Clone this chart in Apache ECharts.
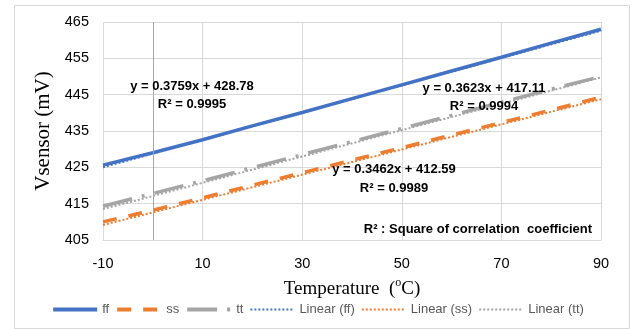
<!DOCTYPE html>
<html>
<head>
<meta charset="utf-8">
<script src="https://cdn.jsdelivr.net/npm/echarts@6/dist/echarts.min.js"></script>
<style>
  html, body { margin: 0; padding: 0; background: #fff; }
  #chart { width: 635px; height: 329px; }
</style>
</head>
<body>
<div id="chart"></div>
<script>
// measured data, temperature (C) vs sensor voltage (mV)
var temps = [-10, 0, 10, 20, 30, 40, 50, 60, 70, 80, 90]
var ffData = [425.6, 429.0, 432.6, 436.4, 440.1, 443.9, 447.7, 451.5, 455.3, 459.2, 463.0]
var ssData = [410.0, 413.2, 416.6, 420.1, 423.5, 427.0, 430.4, 433.9, 437.3, 440.8, 444.3]
var ttData = [414.3, 417.8, 421.3, 424.9, 428.5, 432.1, 435.7, 439.3, 442.9, 446.5, 450.0]

// trendline end points (from the fitted equations at x = -10 and x = 90)
var trendX = [-10, 90]
var ffTrend = [425.02, 462.61]
var ssTrend = [409.13, 443.75]
var ttTrend = [413.49, 449.72]

var xTicks = [-10, 10, 30, 50, 70, 90]
var yTicks = [405, 415, 425, 435, 445, 455, 465]

var blue = '#4472C4'
var orange = '#ED7D31'
var gray = '#A5A5A5'

function pairs(xs, ys) {
  var out = []
  xs.forEach(function (x, i) { out.push([x, ys[i]]) })
  return out
}

var chart = echarts.init(document.getElementById('chart'))

var sans = '"Liberation Sans", Arial, sans-serif'
var serif = '"Liberation Serif", "Times New Roman", serif'
var eqFont = 'bold 13px ' + sans

function eqText(x, y, txt, align) {
  return {
    type: 'text', x: x, y: y, z: 10,
    style: { text: txt, font: eqFont, fill: '#000', align: align || 'center', verticalAlign: 'middle' }
  }
}

var option = {
  animation: false,
  backgroundColor: '#fff',
  grid: { left: 103, right: 34, top: 22, bottom: 89 },
  xAxis: {
    type: 'value',
    min: xTicks[0],
    max: xTicks[xTicks.length - 1],
    interval: 20,
    name: '{a|Temperature  (}{s|o}{a|C)}',
    nameLocation: 'middle',
    nameGap: 37,
    nameTextStyle: {
      rich: {
        a: { fontFamily: serif, fontSize: 19, color: '#000', lineHeight: 22, verticalAlign: 'bottom' },
        s: { fontFamily: serif, fontSize: 12, color: '#000', lineHeight: 22, verticalAlign: 'top', padding: [0, 0, 8, 0] }
      }
    },
    axisLine: { show: true, lineStyle: { color: '#d9d9d9' } },
    axisTick: { show: false },
    axisLabel: { color: '#000', fontSize: 14.5, margin: 16, fontFamily: sans },
    splitLine: { show: true, lineStyle: { color: '#d9d9d9' } }
  },
  yAxis: {
    type: 'value',
    min: yTicks[0],
    max: yTicks[yTicks.length - 1],
    interval: 10,
    name: 'Vsensor (mV)',
    nameLocation: 'middle',
    nameGap: 34,
    nameTextStyle: { fontFamily: serif, fontSize: 21, color: '#000' },
    axisLine: { show: false },
    axisTick: { show: false },
    axisLabel: { color: '#000', fontSize: 14.5, margin: 14, fontFamily: sans },
    splitLine: { show: true, lineStyle: { color: '#d9d9d9' } }
  },
  legend: {
    bottom: 8,
    left: 'center',
    itemWidth: 44,
    itemHeight: 10,
    itemGap: 6,
    itemStyle: { opacity: 0 },
    textStyle: { color: '#595959', fontSize: 13, fontFamily: sans },
    data: [
      { name: 'ff', lineStyle: { width: 4 } },
      { name: 'ss', lineStyle: { width: 4 } },
      { name: 'tt', lineStyle: { width: 4 } },
      'Linear (ff)', 'Linear (ss)', 'Linear (tt)'
    ]
  },
  series: [
    {
      name: 'ff', type: 'line', symbol: 'none', z: 2,
      data: pairs(temps, ffData),
      lineStyle: { color: blue, width: 3.5 },
      itemStyle: { color: blue },
      markLine: {
        silent: true, symbol: 'none', label: { show: false },
        lineStyle: { color: '#a6a6a6', type: 'solid', width: 1 },
        data: [{ xAxis: 0 }]
      }
    },
    {
      name: 'ss', type: 'line', symbol: 'none', z: 2,
      data: pairs(temps, ssData),
      lineStyle: { color: orange, width: 3.5, type: [14, 12] },
      itemStyle: { color: orange }
    },
    {
      name: 'tt', type: 'line', symbol: 'none', z: 2,
      data: pairs(temps, ttData),
      lineStyle: { color: gray, width: 3.5, type: [30, 10, 3, 10] },
      itemStyle: { color: gray }
    },
    {
      name: 'Linear (ff)', type: 'line', symbol: 'none', z: 3,
      data: pairs(trendX, ffTrend),
      lineStyle: { color: blue, width: 2, type: [2, 2] },
      itemStyle: { color: blue }
    },
    {
      name: 'Linear (ss)', type: 'line', symbol: 'none', z: 3,
      data: pairs(trendX, ssTrend),
      lineStyle: { color: orange, width: 2, type: [2, 2] },
      itemStyle: { color: orange }
    },
    {
      name: 'Linear (tt)', type: 'line', symbol: 'none', z: 3,
      data: pairs(trendX, ttTrend),
      lineStyle: { color: gray, width: 2, type: [2, 2] },
      itemStyle: { color: gray }
    }
  ],
  graphic: [
    { type: 'rect', left: 12, top: 3, z: -1, silent: true,
      shape: { width: 615, height: 323 },
      style: { fill: 'none', stroke: '#d9d9d9', lineWidth: 1 } },
    eqText(192, 86, 'y = 0.3759x + 428.78'),
    eqText(192, 104, 'R² = 0.9995'),
    eqText(484, 88, 'y = 0.3623x + 417.11'),
    eqText(484, 106, 'R² = 0.9994'),
    eqText(394, 169, 'y = 0.3462x + 412.59'),
    eqText(394, 188, 'R² = 0.9989'),
    eqText(592, 229, 'R² : Square of correlation  coefficient', 'right')
  ]
}

chart.setOption(option)
</script>
</body>
</html>
